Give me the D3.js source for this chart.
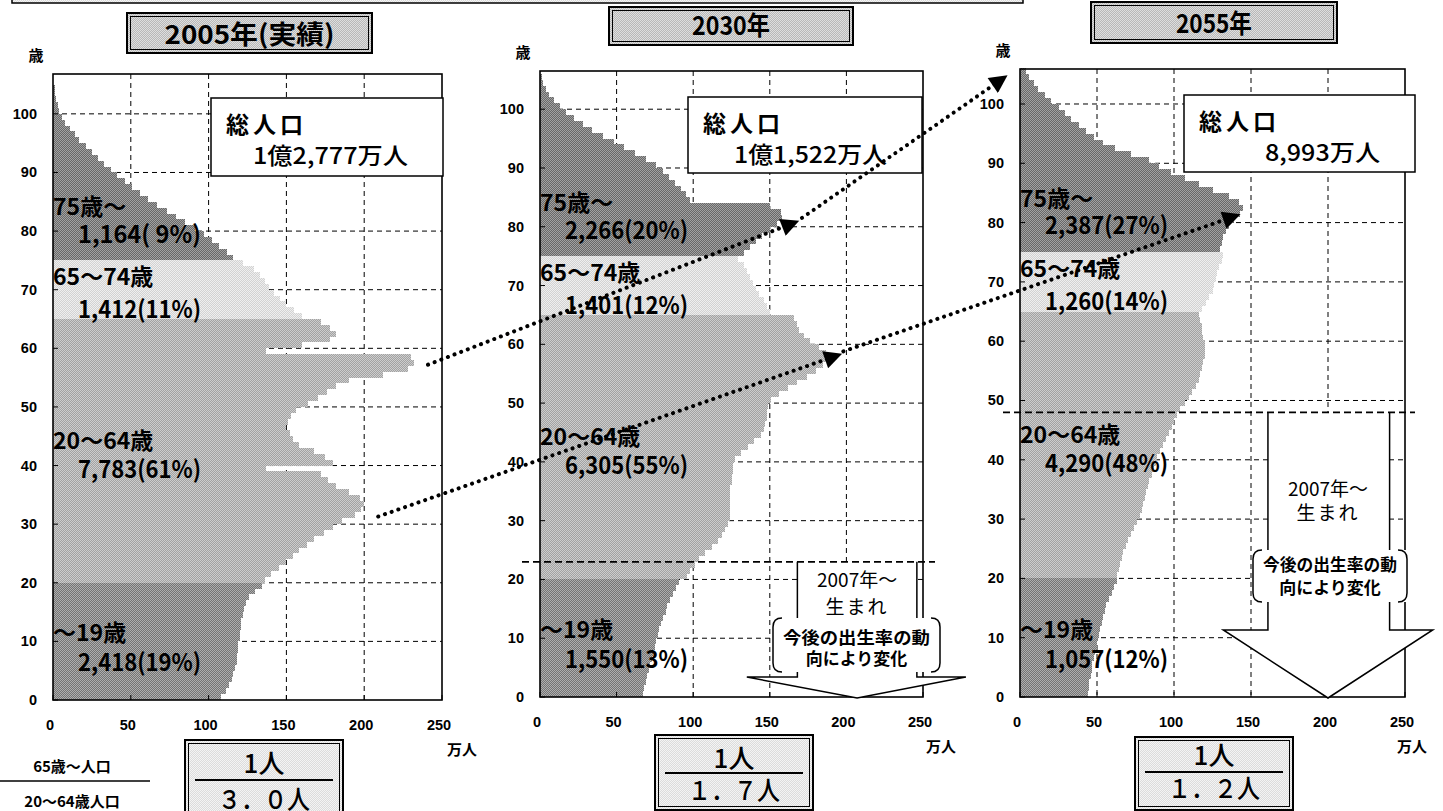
<!DOCTYPE html>
<html>
<head>
<meta charset="utf-8">
<script src="https://cdn.jsdelivr.net/npm/d3@7"></script>
<style>
  body { margin: 0; background: #fff; }
  svg { display: block; }
  text { font-family: "Noto Sans CJK JP", sans-serif; fill: #000; }
  .tick { font-family: "Liberation Sans", Arial, sans-serif; font-weight: bold; font-size: 14.5px; }
</style>
</head>
<body>
<svg id="chart" width="1443" height="811"></svg>
<script>
// population by single year of age (万人), ages 0..105
const ages = d3.range(0, 106);

const pop2005 = [
  108,111,113,115,116,117,118,118,119,119,120,120,121,121,122,123,124,126,130,134,
  136,140,145,150,154,158,163,168,174,180,186,194,198,200,197,190,182,177,172,137,
  180,175,168,158,154,152,150,151,153,156,164,170,176,182,190,212,228,232,230,137,
  160,178,182,178,172,160,155,150,146,142,139,136,133,129,122,
  116,112,107,102,97,91,85,79,73,67,61,56,51,46,41,37,33,29,25,21,17,14,11,8,6,4,3,2,1,1,0
];
const pop2030 = [
  67,68,69,70,71,72,73,74,75,76,77,78,79,80,82,83,85,87,89,91,
  96,98,101,104,108,112,116,119,121,123,124,124,124,124,124,124,125,125,126,126,
  127,131,136,140,144,146,147,148,148,149,151,156,162,168,174,180,185,188,187,182,
  176,172,169,168,166,150,148,146,143,141,139,137,135,133,129,
  133,137,141,145,150,155,158,157,150,98,95,92,88,84,80,76,69,62,55,48,41,34,28,22,17,13,9,6,4,2,1
];
const pop2055 = [
  44,45,45,46,47,47,48,49,50,50,51,52,53,54,55,56,58,60,61,63,
  63,64,65,66,67,69,70,72,74,76,78,79,80,81,82,83,84,86,87,88,
  89,91,93,95,97,99,100,102,104,107,110,112,114,116,117,118,119,120,120,120,
  119,118,118,117,116,118,121,123,125,126,127,128,129,131,132,
  130,131,132,134,136,139,143,145,142,136,125,116,107,98,90,84,72,62,54,48,43,38,33,29,25,20,16,12,9,6,4
];

// age groups: start age, name
const groupStart = [0, 20, 65, 75];
const groupNames = ["～19歳", "20～64歳", "65～74歳", "75歳～"];
const groupValues2005 = ["2,418(19%)", "7,783(61%)", "1,412(11%)", "1,164( 9%)"];
const groupValues2030 = ["1,550(13%)", "6,305(55%)", "1,401(12%)", "2,266(20%)"];
const groupValues2055 = ["1,057(12%)", "4,290(48%)", "1,260(14%)", "2,387(27%)"];

const titles = ["2005年(実績)", "2030年", "2055年"];
const totals = ["1億2,777万人", "1億1,522万人", "8,993万人"];
const ratios = ["３．０人", "１．７人", "１．２人"];

const xTicks = [0, 50, 100, 150, 200, 250];
const yTicks = d3.range(0, 101, 10);

// layout of the three panels
const panels = [
  { data: pop2005, labels: groupValues2005, left: 53, right: 442, top: 74, bottom: 700, yMax: 106.8,
    titleBox: [127, 13, 245, 40], titleBase: 44, titleLen: 170,
    totalBox: [211, 98, 232, 78], totalLen: 155,
    ratioBox: [185, 740, 158, 80], ratioY: [773, 780, 809], unitX: 462 },
  { data: pop2030, labels: groupValues2030, left: 540, right: 923, top: 71, bottom: 697, yMax: 106.5,
    titleBox: [609, 7, 244, 38], titleBase: 35, titleLen: 78,
    totalBox: [688, 97, 234, 76], totalLen: 153,
    ratioBox: [655, 735, 158, 75], ratioY: [768, 773, 800], unitX: 941,
    born: { age: 23, x0: 522, x1: 935, shaft: [168, 246], head: [135, 278], tip: 207, headAge: 3.4,
            text: [587, 614], callout: [773, 618, 167, 54], callText: [644, 665] } },
  { data: pop2055, labels: groupValues2055, left: 1020, right: 1405, top: 69, bottom: 697, yMax: 105.9,
    titleBox: [1091, 2, 246, 41], titleBase: 33, titleLen: 76,
    totalBox: [1184, 95, 231, 77], totalLen: 115,
    ratioBox: [1135, 737, 158, 73], ratioY: [765, 772, 798], unitX: 1412,
    born: { age: 48, x0: 1003, x1: 1415, shaft: [161, 240], head: [132, 268], tip: 200, headAge: 11.3,
            text: [496, 520], callout: [1253, 550, 154, 52], callText: [571, 594] } }
];

// label anchor ages (baselines) for group name / value lines
const nameAges = [10, 42.8, 70.8, 82.7];
const valueAges = [4.9, 37.9, 65.2, 78];

const svg = d3.select("#chart");
const defs = svg.append("defs");

function screen(id, a, b) {
  const p = defs.append("pattern").attr("id", id)
    .attr("width", 2).attr("height", 2).attr("patternUnits", "userSpaceOnUse");
  p.append("rect").attr("width", 2).attr("height", 2).attr("fill", a);
  p.append("rect").attr("width", 1).attr("height", 1).attr("fill", b);
  p.append("rect").attr("x", 1).attr("y", 1).attr("width", 1).attr("height", 1).attr("fill", b);
}
screen("g0", "#747474", "#aeaeae");
screen("g1", "#a2a2a2", "#cdcdcd");
screen("g2", "#d2d2d2", "#efefef");
screen("g3", "#686868", "#a2a2a2");
screen("gTitle", "#b8b8b8", "#dedede");
screen("gRatio", "#dcdcdc", "#f4f4f4");
const groupFill = ["url(#g0)", "url(#g1)", "url(#g2)", "url(#g3)"];

defs.append("marker").attr("id", "tri")
  .attr("viewBox", "0 0 10 10").attr("refX", 8).attr("refY", 5)
  .attr("markerUnits", "userSpaceOnUse").attr("markerWidth", 22).attr("markerHeight", 18)
  .attr("orient", "auto")
  .append("path").attr("d", "M0,0 L10,5 L0,10 z").attr("fill", "#000");

function groupOf(a) {
  let g = 0;
  groupStart.forEach((s, i) => { if (a >= s) g = i; });
  return g;
}

// top frame remnant
svg.append("rect").attr("x", 12).attr("y", -6).attr("width", 1011).attr("height", 9)
  .attr("fill", "url(#gRatio)").attr("stroke", "#000").attr("stroke-width", 1.5);

function doubleBox(x, y, w, h, fill) {
  svg.append("rect").attr("x", x).attr("y", y).attr("width", w).attr("height", h)
    .attr("fill", fill).attr("stroke", "#000").attr("stroke-width", 2);
  svg.append("rect").attr("x", x + 3.5).attr("y", y + 3.5).attr("width", w - 7).attr("height", h - 7)
    .attr("fill", "none").attr("stroke", "#000").attr("stroke-width", 1);
}

panels.forEach((p, pi) => {
  const x = d3.scaleLinear().domain([0, 250]).range([p.left, p.right]);
  const y = d3.scaleLinear().domain([0, p.yMax]).range([p.bottom, p.top]);
  p.x = x; p.y = y;
  const g = svg.append("g");

  // title box
  const [tx, ty, tw, th] = p.titleBox;
  doubleBox(tx, ty, tw, th, "url(#gTitle)");
  svg.append("text").attr("x", tx + tw / 2).attr("y", p.titleBase)
    .attr("text-anchor", "middle").attr("font-size", 26).attr("font-weight", 700)
    .attr("textLength", p.titleLen).attr("lengthAdjust", "spacingAndGlyphs")
    .text(titles[pi]);

  // plot background
  g.append("rect").attr("x", p.left).attr("y", p.top)
    .attr("width", p.right - p.left).attr("height", p.bottom - p.top).attr("fill", "#fff");

  // gridlines
  g.selectAll(".vg").data(xTicks.slice(1, -1)).join("line")
    .attr("x1", d => x(d)).attr("x2", d => x(d)).attr("y1", p.top).attr("y2", p.bottom)
    .attr("stroke", "#000").attr("stroke-width", 1).attr("stroke-dasharray", "5,4");
  g.selectAll(".hg").data(yTicks.slice(1)).join("line")
    .attr("x1", p.left).attr("x2", p.right).attr("y1", d => y(d)).attr("y2", d => y(d))
    .attr("stroke", "#000").attr("stroke-width", 1).attr("stroke-dasharray", "5,4");

  // bars
  g.selectAll(".bar").data(ages).join("rect")
    .attr("shape-rendering", "crispEdges")
    .attr("x", x(0))
    .attr("y", a => y(a + 1))
    .attr("width", a => x(p.data[a]) - x(0))
    .attr("height", a => y(a) - y(a + 1))
    .attr("fill", a => groupFill[groupOf(a)]);

  // frame and inner ticks
  g.append("rect").attr("x", p.left).attr("y", p.top)
    .attr("width", p.right - p.left).attr("height", p.bottom - p.top)
    .attr("fill", "none").attr("stroke", "#000").attr("stroke-width", 1.6);
  g.selectAll(".yt").data(yTicks).join("line")
    .attr("x1", p.left).attr("x2", p.left + 5).attr("y1", d => y(d)).attr("y2", d => y(d))
    .attr("stroke", "#000");
  g.selectAll(".xt").data(xTicks).join("line")
    .attr("x1", d => x(d)).attr("x2", d => x(d)).attr("y1", p.bottom).attr("y2", p.bottom - 5)
    .attr("stroke", "#000");

  // tick labels
  g.selectAll(".yl").data(yTicks).join("text").attr("class", "tick")
    .attr("x", p.left - 16).attr("y", d => y(d) + 5).attr("text-anchor", "end")
    .text(d => d);
  g.selectAll(".xl").data(xTicks).join("text").attr("class", "tick")
    .attr("x", d => x(d) - 3).attr("y", p.bottom + 30).attr("text-anchor", "middle")
    .text(d => d);
  g.append("text").attr("x", p.left - 17).attr("y", p.top - 13).attr("text-anchor", "middle")
    .attr("font-size", 15).attr("font-weight", 700).text("歳");
  g.append("text").attr("x", p.unitX).attr("y", p.bottom + 55).attr("text-anchor", "middle")
    .attr("font-size", 15).attr("font-weight", 700).text("万人");

  // 2007年～生まれ marker
  if (p.born) {
    const b = p.born, ly = y(b.age);
    const hy = y(b.headAge), tipY = p.bottom + 1;
    const outline = `M${x(b.shaft[0])},${ly} L${x(b.shaft[0])},${hy} L${x(b.head[0])},${hy} L${x(b.tip)},${tipY}
                  L${x(b.head[1])},${hy} L${x(b.shaft[1])},${hy} L${x(b.shaft[1])},${ly}`;
    g.append("path").attr("d", outline + " Z").attr("fill", "#fff").attr("stroke", "none");
    g.append("path").attr("d", outline)
      .attr("fill", "none").attr("stroke", "#000").attr("stroke-width", 1.5);
    g.append("line").attr("x1", b.x0).attr("x2", b.x1).attr("y1", ly).attr("y2", ly)
      .attr("stroke", "#000").attr("stroke-width", 1.8).attr("stroke-dasharray", "7,4");
    const cx = x(b.tip);
    g.append("text").attr("x", cx).attr("y", b.text[0]).attr("text-anchor", "middle")
      .attr("font-size", 19).text("2007年～");
    g.append("text").attr("x", cx).attr("y", b.text[1]).attr("text-anchor", "middle")
      .attr("font-size", 19).attr("letter-spacing", 2).text("生まれ");
    const [bx, by, bw, bh] = b.callout;
    g.append("rect").attr("x", bx).attr("y", by).attr("width", bw).attr("height", bh).attr("fill", "#fff");
    g.append("path").attr("d", `M${bx + 9},${by} Q${bx},${by} ${bx},${by + 9} L${bx},${by + bh - 9} Q${bx},${by + bh} ${bx + 9},${by + bh}`)
      .attr("fill", "none").attr("stroke", "#000").attr("stroke-width", 1.5);
    g.append("path").attr("d", `M${bx + bw - 9},${by} Q${bx + bw},${by} ${bx + bw},${by + 9} L${bx + bw},${by + bh - 9} Q${bx + bw},${by + bh} ${bx + bw - 9},${by + bh}`)
      .attr("fill", "none").attr("stroke", "#000").attr("stroke-width", 1.5);
    g.append("text").attr("x", bx + bw / 2).attr("y", b.callText[0]).attr("text-anchor", "middle")
      .attr("font-size", 17).attr("font-weight", 700)
      .attr("textLength", bw - 20).attr("lengthAdjust", "spacingAndGlyphs").text("今後の出生率の動");
    g.append("text").attr("x", bx + bw / 2).attr("y", b.callText[1]).attr("text-anchor", "middle")
      .attr("font-size", 17).attr("font-weight", 700).text("向により変化");
  }

  // total population box
  const [bx, by, bw, bh] = p.totalBox;
  g.append("rect").attr("x", bx).attr("y", by).attr("width", bw).attr("height", bh)
    .attr("fill", "#fff").attr("stroke", "#000").attr("stroke-width", 1.5);
  g.append("text").attr("x", bx + 15).attr("y", by + 35).attr("font-size", 23)
    .attr("font-weight", 700).attr("letter-spacing", 4).text("総人口");
  g.append("text").attr("x", bx + bw - 35).attr("y", by + 66).attr("text-anchor", "end")
    .attr("font-size", 23).attr("font-weight", 500)
    .attr("textLength", p.totalLen).attr("lengthAdjust", "spacingAndGlyphs").text(totals[pi]);

  // group labels
  groupNames.forEach((n, i) => {
    g.append("text").attr("x", p.left).attr("y", y(nameAges[i]))
      .attr("font-size", 23).attr("font-weight", 700).text(n);
    g.append("text").attr("x", p.left + 25).attr("y", y(valueAges[i]))
      .attr("font-size", 24).attr("font-weight", 700)
      .attr("textLength", 123).attr("lengthAdjust", "spacingAndGlyphs").text(p.labels[i]);
  });

  // ratio box
  const [rx, ry, rw, rh] = p.ratioBox;
  doubleBox(rx, ry, rw, rh, "url(#gRatio)");
  svg.append("text").attr("x", rx + rw / 2).attr("y", p.ratioY[0]).attr("text-anchor", "middle")
    .attr("font-size", 26).attr("font-weight", 500).text("1人");
  svg.append("line").attr("x1", rx + 10).attr("x2", rx + rw - 10)
    .attr("y1", p.ratioY[1]).attr("y2", p.ratioY[1]).attr("stroke", "#000").attr("stroke-width", 2);
  svg.append("text").attr("x", rx + rw / 2).attr("y", p.ratioY[2]).attr("text-anchor", "middle")
    .attr("font-size", 26).attr("font-weight", 500).attr("textLength", 92).attr("lengthAdjust", "spacingAndGlyphs")
    .text(ratios[pi]);
});

// ratio legend at left
svg.append("text").attr("x", 72).attr("y", 772).attr("text-anchor", "middle")
  .attr("font-size", 15).attr("font-weight", 700).text("65歳～人口");
svg.append("line").attr("x1", 0).attr("x2", 150).attr("y1", 781).attr("y2", 781)
  .attr("stroke", "#000").attr("stroke-width", 1.5);
svg.append("text").attr("x", 72).attr("y", 807).attr("text-anchor", "middle")
  .attr("font-size", 15).attr("font-weight", 700).text("20～64歳人口");

// cohort arrows: [from panel, value, age] -> [to panel, value, age]
const cohortArrows = [
  [[0, 241, 57.2], [1, 167, 80.8]],
  [[0, 209, 31.3], [1, 195, 58.2]],
  [[1, 171, 81.5], [2, -10, 104.5]],
  [[1, 198, 58.8], [2, 141, 81.2]]
];
cohortArrows.forEach(([s, e]) => {
  const ps = panels[s[0]], pe = panels[e[0]];
  svg.append("line")
    .attr("x1", ps.x(s[1])).attr("y1", ps.y(s[2]))
    .attr("x2", pe.x(e[1])).attr("y2", pe.y(e[2]))
    .attr("stroke", "#000").attr("stroke-width", 4)
    .attr("stroke-linecap", "round").attr("stroke-dasharray", "0.1,7")
    .attr("marker-end", "url(#tri)");
});
</script>
</body>
</html>
